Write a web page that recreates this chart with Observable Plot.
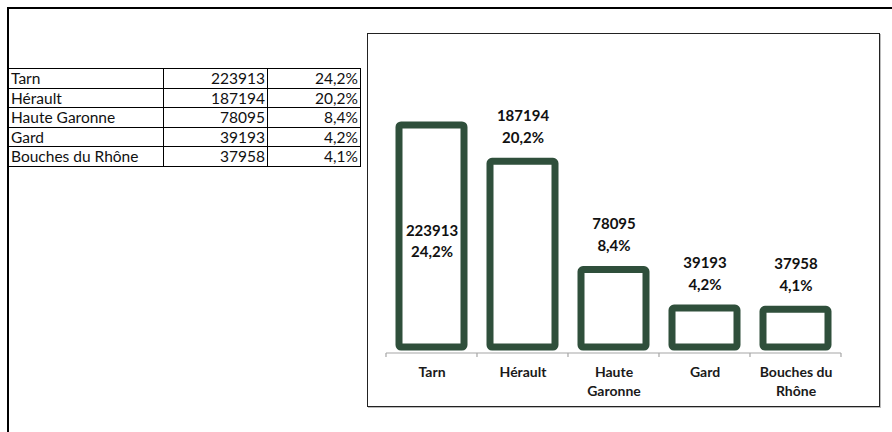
<!DOCTYPE html>
<html><head><meta charset="utf-8">
<script src="https://cdn.jsdelivr.net/npm/d3@7"></script>
<script src="https://cdn.jsdelivr.net/npm/@observablehq/plot@0.6"></script>
<style>
html,body{margin:0;padding:0;background:#fff;}
body{width:892px;height:432px;position:relative;overflow:hidden;}
#frameTop{position:absolute;left:7px;top:7px;width:885px;height:2px;background:#000;}
#frameLeft{position:absolute;left:7px;top:7px;width:2px;height:425px;background:#000;}
#tbl{position:absolute;left:7px;top:68px;border-collapse:collapse;table-layout:fixed;font-family:Lato,"Noto Sans",sans-serif;font-size:15.5px;color:#111;}
#tbl td{border:1.5px solid #000;height:18.5px;padding:0 2px 0 3px;line-height:18px;white-space:nowrap;overflow:hidden;}
#tbl td.num{text-align:right;}
#chart{position:absolute;left:367px;top:33px;width:511px;height:372px;border:1.5px solid #222;box-shadow:1px 1px 0 #bbb;}
#chart svg{display:block;}
</style>
</head>
<body>
<div id="frameTop"></div><div id="frameLeft"></div>
<table id="tbl"><colgroup><col style="width:156px"><col style="width:104px"><col style="width:93px"></colgroup><tbody></tbody></table>
<div id="chart"></div>
<script>
const departements = ["Tarn", "Hérault", "Haute Garonne", "Gard", "Bouches du Rhône"];
const axisLabels = ["Tarn", "Hérault", "Haute\nGaronne", "Gard", "Bouches du\nRhône"];
const effectifs = [223913, 187194, 78095, 39193, 37958];
const parts = ["24,2%", "20,2%", "8,4%", "4,2%", "4,1%"];

const rows = departements.map((d, i) => ({dep: d, label: axisLabels[i], value: effectifs[i], pct: parts[i]}));

// Table
const tbody = document.querySelector("#tbl tbody");
rows.forEach(r => {
  const tr = document.createElement("tr");
  [[r.dep, ""], [String(r.value), "num"], [r.pct, "num"]].forEach(([t, c]) => {
    const td = document.createElement("td");
    td.textContent = t;
    if (c) td.className = c;
    tr.appendChild(td);
  });
  tbody.appendChild(tr);
});

const green = "#2f4f3b";
const maxVal = d3.max(effectifs);
const pi = 0.286;

function axisBase(index, scales, values, dims) {
  const x = scales.x, y = scales.y;
  const step = x(departements[1]) - x(departements[0]);
  const bw = step * (1 - pi);
  const y0 = y(0) + 6;
  const g = d3.create("svg:g");
  const x0 = x(departements[0]) + bw / 2 - step / 2;
  const x1 = x(departements[departements.length - 1]) + bw / 2 + step / 2;
  g.append("line").attr("x1", x0).attr("x2", x1).attr("y1", y0).attr("y2", y0)
    .attr("stroke", "#a6a6a6").attr("stroke-width", 1.2);
  const bounds = departements.map(d => x(d) + bw / 2 - step / 2).concat([x1]);
  bounds.forEach(b => {
    g.append("line").attr("x1", b).attr("x2", b).attr("y1", y0).attr("y2", y0 + 4)
      .attr("stroke", "#a6a6a6").attr("stroke-width", 1.2);
  });
  return g.node();
}

const fmt = r => `${r.value}\n${r.pct}`;

const plot = Plot.plot({
  width: 511, height: 372,
  marginLeft: 17.5, marginRight: 38.5, marginTop: 65, marginBottom: 59,
  style: {fontFamily: "Lato, 'Noto Sans', sans-serif", background: "transparent", overflow: "visible"},
  x: {domain: departements, paddingInner: pi, paddingOuter: pi / 2, axis: null},
  y: {domain: [0, 250000], axis: null},
  marks: [
    axisBase,
    Plot.barY(rows, {x: "dep", y: "value", fill: "white", stroke: green, strokeWidth: 7, rx: 2}),
    Plot.text(rows, {x: "dep", text: "label", frameAnchor: "bottom", lineAnchor: "top", dy: 17,
      fontSize: 14, fontWeight: "bold", fill: "#1a1a1a", lineHeight: 1.3}),
    Plot.text(rows.filter(r => r.value === maxVal), {x: "dep", y: r => r.value / 2, text: fmt,
      lineAnchor: "middle", dy: 3, fontSize: 15, fontWeight: "bold", fill: "#111", lineHeight: 1.45}),
    Plot.text(rows.filter(r => r.value !== maxVal), {x: "dep", y: "value", text: fmt,
      lineAnchor: "bottom", dy: -19, fontSize: 15, fontWeight: "bold", fill: "#111", lineHeight: 1.45})
  ]
});
document.getElementById("chart").appendChild(plot);
</script>
</body></html>
